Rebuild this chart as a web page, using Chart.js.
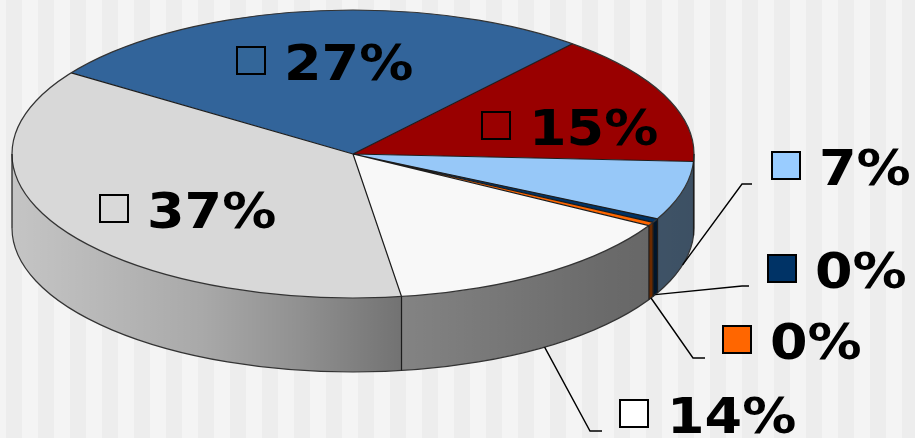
<!DOCTYPE html>
<html>
<head>
<meta charset="utf-8">
<script src="https://cdn.jsdelivr.net/npm/chart.js@4.4.1/dist/chart.umd.min.js"></script>
<style>
  html, body { margin: 0; padding: 0; background: #f4f4f4; }
  #wrap { width: 915px; height: 438px; }
</style>
</head>
<body>
<div id="wrap"><canvas id="pieChart" width="915" height="438"></canvas></div>
<script>
// Slice data (percent shares)
const categories = ['Category 1', 'Category 2', 'Category 3', 'Category 4', 'Category 5', 'Category 6', 'Category 7'];
const shares = [26.6, 14.7, 6.6, 0.45, 0.4, 14.45, 36.8];

// Colours of the top faces and of the little legend keys
const topColors = ['#32649a', '#990000', '#97c8f8', '#003366', '#ff6600', '#f8f8f8', '#d8d8d8'];
const keyColors = ['#336699', '#990000', '#99ccff', '#003366', '#ff6600', '#ffffff', '#d9d9d9'];

const total = shares.reduce((s, v) => s + v, 0);
const pctLabels = shares.map(v => Math.round(v * 100 / total) + '%');

// Layout of the squashed pie on the page
const CX = 353, CY = 154, RX = 341, RY = 144, DEPTH = 74;
// where each label sits (key box left, text baseline) and the leader bends
const labelSpots = [[237, 80], [482, 145], [772, 185], [768, 288], [723, 359], [620, 433], [100, 228]];
const leaderBends = [null, null, [[742, 184], [752, 184]], [[742, 286], [749, 286]], [[693, 358], [705, 358]], [[590, 431], [602, 431]], null];

const onTop = t => [CX + RX * Math.cos(t), CY + RY * Math.sin(t)];
const onBottom = t => [CX + RX * Math.cos(t), CY + DEPTH + RY * Math.sin(t)];

// front part (0..PI) of each slice is the visible wall
function visibleWall(a1, a2) {
  const segs = [];
  for (let k = -1; k <= 1; k++) {
    const base = 2 * Math.PI * k;
    const lo = Math.max(a1, base), hi = Math.min(a2, base + Math.PI);
    if (hi > lo) segs.push([lo, hi]);
  }
  return segs;
}

function wallPath(ctx, t1, t2) {
  ctx.beginPath();
  ctx.ellipse(CX, CY, RX, RY, 0, t1, t2, false);
  ctx.lineTo(...onBottom(t2));
  ctx.ellipse(CX, CY + DEPTH, RX, RY, 0, t2, t1, true);
  ctx.closePath();
}

const pie3d = {
  id: 'pie3d',
  beforeDraw(chart) {
    const ctx = chart.ctx;
    ctx.save();
    ctx.fillStyle = '#f4f4f4';
    ctx.fillRect(0, 0, chart.width, chart.height);
    ctx.fillStyle = '#ededed';
    for (let x = 6; x < chart.width; x += 32) ctx.fillRect(x, 0, 16, chart.height);
    ctx.restore();
  },
  beforeDatasetsDraw(chart) {
    const ctx = chart.ctx;
    const arcs = chart.getDatasetMeta(0).data;

    // side walls
    const shade = ctx.createLinearGradient(CX - RX, 0, CX + RX, 0);
    [[0, 0.09], [0.13, 0.15], [0.28, 0.22], [0.42, 0.33], [0.57, 0.47], [0.86, 0.57], [1, 0.6]]
      .forEach(([o, a]) => shade.addColorStop(o, `rgba(0,0,0,${a})`));
    const edges = [];
    arcs.forEach((arc, i) => {
      visibleWall(arc.startAngle, arc.endAngle).forEach(([t1, t2]) => {
        ctx.save();
        wallPath(ctx, t1, t2);
        ctx.fillStyle = topColors[i];
        ctx.fill();
        ctx.fillStyle = shade;
        ctx.fill();
        ctx.restore();
        edges.push(t1, t2);
      });
    });

    // top faces, drawn by the arc elements into the squashed frame
    arcs.forEach(arc => {
      ctx.save();
      ctx.translate(CX, CY);
      ctx.scale(RX / arc.outerRadius, RY / arc.outerRadius);
      ctx.translate(-arc.x, -arc.y);
      arc.draw(ctx);
      ctx.restore();
    });

    // outlines
    ctx.save();
    ctx.strokeStyle = '#1c1c1c';
    ctx.lineWidth = 1.2;
    ctx.beginPath();
    arcs.forEach(arc => {
      ctx.moveTo(CX, CY);
      ctx.lineTo(...onTop(arc.startAngle));
    });
    ctx.stroke();
    ctx.strokeStyle = '#333';
    ctx.beginPath();
    ctx.ellipse(CX, CY, RX, RY, 0, 0, Math.PI * 2);
    ctx.stroke();
    ctx.beginPath();
    ctx.ellipse(CX, CY + DEPTH, RX, RY, 0, 0, Math.PI);
    ctx.stroke();
    ctx.strokeStyle = '#1c1c1c';
    ctx.beginPath();
    edges.forEach(t => {
      ctx.moveTo(...onTop(t));
      ctx.lineTo(...onBottom(t));
    });
    ctx.stroke();
    ctx.restore();
    return false;
  },
  afterDraw(chart) {
    const ctx = chart.ctx;
    const arcs = chart.getDatasetMeta(0).data;
    ctx.save();
    // leader lines from the lower rim at each slice's middle
    ctx.strokeStyle = '#000';
    ctx.lineWidth = 1.4;
    arcs.forEach((arc, i) => {
      const bends = leaderBends[i];
      if (!bends) return;
      const mid = (arc.startAngle + arc.endAngle) / 2;
      ctx.beginPath();
      ctx.moveTo(...onBottom(mid));
      bends.forEach(p => ctx.lineTo(p[0], p[1]));
      ctx.stroke();
    });
    // key box + percentage
    ctx.font = 'bold 50px "DejaVu Sans"';
    ctx.textBaseline = 'alphabetic';
    arcs.forEach((arc, i) => {
      const [x, y] = labelSpots[i];
      ctx.fillStyle = keyColors[i];
      ctx.fillRect(x, y - 33, 28, 27);
      ctx.strokeStyle = '#000';
      ctx.lineWidth = 2;
      ctx.strokeRect(x, y - 33, 28, 27);
      ctx.save();
      ctx.translate(x + 47, y);
      ctx.scale(1.08, 1);
      ctx.fillStyle = '#000';
      ctx.fillText(pctLabels[i], 0, 0);
      ctx.restore();
    });
    ctx.restore();
  }
};

new Chart(document.getElementById('pieChart'), {
  type: 'pie',
  data: {
    labels: categories,
    datasets: [{
      data: shares,
      backgroundColor: topColors,
      borderWidth: 0
    }]
  },
  options: {
    responsive: false,
    animation: false,
    events: [],
    rotation: -55.7,
    layout: { padding: 0 },
    plugins: {
      legend: { display: false },
      tooltip: { enabled: false }
    }
  },
  plugins: [pie3d]
});
</script>
</body>
</html>
